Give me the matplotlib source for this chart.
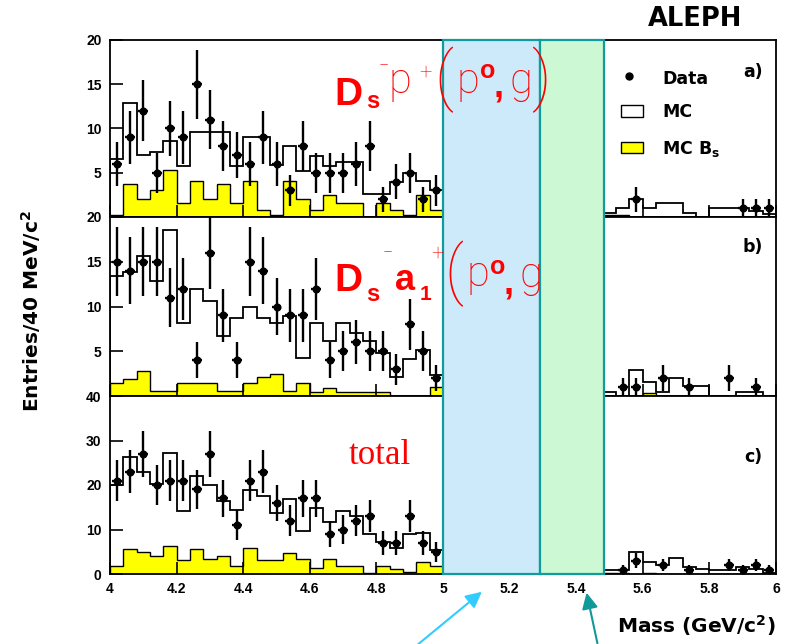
import numpy as np
import matplotlib
matplotlib.use("Agg")
import matplotlib.pyplot as plt
from matplotlib.patches import Rectangle, FancyArrowPatch
from matplotlib.lines import Line2D
from matplotlib.transforms import blended_transform_factory

plt.rcParams["font.family"] = ["DejaVu Sans"]
plt.rcParams["mathtext.fontset"] = "custom"
plt.rcParams["mathtext.rm"] = "DejaVu Sans:bold"
plt.rcParams["mathtext.it"] = "DejaVu Sans:bold"
plt.rcParams["mathtext.bf"] = "DejaVu Sans:bold"
plt.rcParams["mathtext.default"] = "rm"

# 40 MeV/c^2 bins; the 5.00-5.48 GeV/c^2 signal window is covered by the bands
edges_lo = np.round(np.linspace(4.00, 5.00, 26), 2)
edges_hi = np.round(np.linspace(5.48, 6.00, 14), 2)

# a) Ds- rho+ (rho0, gamma)
data_a_lo = [6, 9, 12, 5, 10, 9, 15, 11, 8, 7, 6, 9, 6, 3, 8, 5, 5, 5, 6, 8, 2, 4, 5, 2, 3]
data_a_hi = [0, 0, 2, 0, 0, 0, 0, 0, 0, 0, 1, 1, 1]
mc_a_lo = [6.6, 12.9, 7.0, 7.4, 8.6, 5.8, 9.6, 9.6, 9.6, 5.8, 9.0, 9.0, 5.9,
           8.0, 5.2, 6.9, 5.8, 6.2, 6.2, 2.6, 2.6, 3.9, 5.0, 4.1, 3.1]
mc_a_hi = [0.5, 1.0, 2.0, 1.0, 1.6, 1.6, 0.5, 0.0, 1.0, 1.0, 1.0, 0.7, 0.3]
bs_a_lo = [0.2, 3.7, 2.0, 3.1, 5.3, 1.6, 4.1, 2.0, 3.7, 1.6, 4.1, 0.8, 0.2,
           4.1, 2.0, 0.8, 2.5, 1.6, 1.6, 0.0, 1.6, 0.8, 0.2, 2.5, 0.8]
bs_a_hi = [0.2, 0.2, 0, 0, 0, 0, 0, 0, 0, 0, 0, 0, 0]

# b) Ds- a1+ (rho0, gamma)
data_b_lo = [15, 14, 15, 15, 11, 12, 4, 16, 9, 4, 15, 14, 10, 9, 9, 12, 4, 5, 6, 5, 5, 3, 8, 5, 2]
data_b_hi = [0, 1, 1, 0, 2, 0, 1, 0, 0, 2, 0, 1, 0]
mc_b_lo = [13.4, 13.9, 15.6, 12.9, 18.6, 8.2, 11.9, 10.6, 6.7, 8.7, 9.9, 8.7, 8.2,
           8.9, 4.3, 8.2, 6.1, 8.2, 7.0, 6.1, 4.8, 2.1, 4.1, 5.1, 2.4]
mc_b_hi = [0.5, 0.0, 2.9, 1.6, 0.5, 2.0, 1.1, 1.1, 0.0, 0.0, 0.5, 0.5, 0.0]
bs_b_lo = [1.5, 1.9, 2.8, 0.6, 0.6, 1.5, 1.5, 1.5, 0.6, 0.6, 1.5, 2.1, 2.5,
           0.6, 1.5, 0.5, 0.85, 0.4, 0.4, 0.4, 0.4, 0.0, 0.0, 0.0, 1.0]
bs_b_hi = [0, 0, 0, 0.3, 0, 0, 0, 0, 0, 0, 0, 0, 0]

# c) total
data_c_lo = [21, 23, 27, 20, 21, 21, 19, 27, 17, 11, 21, 23, 16, 12, 17, 17, 9, 10, 12, 13, 7, 7, 13, 7, 5]
data_c_hi = [0, 1, 3, 0, 2, 0, 1, 0, 0, 2, 1, 2, 1]
mc_c_lo = [20.0, 26.2, 22.9, 20.2, 27.2, 14.1, 22.0, 20.1, 16.3, 14.4, 18.9, 17.5, 13.8,
           16.8, 9.7, 14.8, 11.6, 14.1, 13.0, 8.9, 7.3, 5.9, 8.9, 9.2, 5.4]
mc_c_hi = [0.9, 1.0, 4.9, 2.6, 2.1, 3.6, 1.6, 1.1, 1.0, 1.0, 1.5, 1.2, 0.3]
bs_c_lo = [1.7, 5.6, 5.0, 4.1, 6.2, 3.2, 5.6, 3.4, 4.1, 1.7, 5.8, 3.2, 3.2,
           4.7, 3.4, 1.3, 3.4, 1.7, 1.7, 0.2, 1.7, 1.1, 0.5, 2.6, 1.7]
bs_c_hi = [0.3, 0.3, 0, 0.3, 0, 0, 0, 0, 0, 0, 0, 0, 0]

x_ticks = [4.0, 4.2, 4.4, 4.6, 4.8, 5.0, 5.2, 5.4, 5.6, 5.8, 6.0]
x_ticklabels = ["4", "4.2", "4.4", "4.6", "4.8", "5", "5.2", "5.4", "5.6", "5.8", "6"]
y_ticks = [[5, 10, 15, 20], [5, 10, 15, 20], [0, 10, 20, 30, 40]]
y_max = [20, 20, 40]
panel_tags = ["a)", "b)", "c)"]

W, H = 785, 644
fig = plt.figure(figsize=(W / 100, H / 100), dpi=100)


def fx(px):
    return px / W


def fy(py):
    return 1 - py / H


left_px, right_px = 110, 776
rows = [(40, 217), (217, 396), (396, 574)]
tag_rows = [72, 247, 457]

panels = [
    (data_a_lo, data_a_hi, mc_a_lo, mc_a_hi, bs_a_lo, bs_a_hi),
    (data_b_lo, data_b_hi, mc_b_lo, mc_b_hi, bs_b_lo, bs_b_hi),
    (data_c_lo, data_c_hi, mc_c_lo, mc_c_hi, bs_c_lo, bs_c_hi),
]

tick_font = dict(family=["Liberation Sans", "DejaVu Sans"], fontweight="bold", size=10)

axes = []
for i, ((top, bot), series) in enumerate(zip(rows, panels)):
    ax = fig.add_axes([fx(left_px), fy(bot), fx(right_px - left_px), (bot - top) / H])
    d_lo, d_hi, m_lo, m_hi, b_lo, b_hi = series
    for edges, d, m, b in ((edges_lo, d_lo, m_lo, b_lo), (edges_hi, d_hi, m_hi, b_hi)):
        ax.stairs(b, edges, fill=True, color="#ffff00", lw=0, zorder=1)
        ax.stairs(b, edges, color="black", lw=1.0, zorder=2)
        ax.stairs(m, edges, color="black", lw=1.3, zorder=3)
        centers = 0.5 * (edges[:-1] + edges[1:])
        d = np.asarray(d, dtype=float)
        keep = d > 0
        ax.errorbar(centers[keep], d[keep], yerr=np.sqrt(d[keep]), xerr=0.015,
                    fmt="o", ms=4.8, color="black", ecolor="black",
                    elinewidth=1.7, capsize=0, zorder=4)
    ax.set_xlim(4, 6)
    ax.set_ylim(0, y_max[i])
    ax.set_xticks(x_ticks)
    ax.set_yticks(y_ticks[i])
    ax.tick_params(direction="in", length=9, width=1.2, top=False, right=False, pad=6)
    ax.set_yticklabels([str(v) for v in y_ticks[i]], fontdict=tick_font)
    if i < 2:
        ax.set_xticklabels([])
    else:
        ax.set_xticklabels(x_ticklabels, fontdict=tick_font)
    for sp in ax.spines.values():
        sp.set_linewidth(1.3)
    axes.append(ax)
    fig.text(fx(753), fy(tag_rows[i]), panel_tags[i], ha="center", va="center",
             fontsize=12.5, fontweight="bold")

ax_a, ax_b, ax_c = axes

# legend of panel a
fig.add_artist(Line2D([fx(629)], [fy(76)], marker="o", ms=5, color="black", ls="none"))
fig.add_artist(Rectangle((fx(621), fy(117)), fx(22), 12 / H, facecolor="white",
                         edgecolor="black", lw=1.0))
fig.add_artist(Rectangle((fx(621), fy(153)), fx(22), 11 / H, facecolor="#ffff00",
                         edgecolor="black", lw=1.0))
for txt, yy in (("Data", 79), ("MC", 112), ("MC B$_s$", 149)):
    fig.text(fx(662), fy(yy), txt, ha="left", va="center", fontsize=12.5, fontweight="bold")

# signal and sideband windows spanning all three panels
trans = blended_transform_factory(ax_c.transData, fig.transFigure)
for x0, x1, face in ((5.0, 5.292, "#cceafa"), (5.292, 5.484, "#ccf9d3")):
    fig.add_artist(Rectangle((x0, fy(574)), x1 - x0, (574 - 40) / H, transform=trans,
                             facecolor=face, edgecolor="#109c9c", lw=1.6, zorder=5))

# decay channel labels
red = "#ff0000"
thin = dict(family=["Roboto", "DejaVu Sans"], fontweight=100, color=red, zorder=10)
bold = dict(family=["Liberation Sans", "DejaVu Sans"], fontweight="bold", color=red, zorder=10)


def put(x, y, s, style, size, va="baseline"):
    fig.text(fx(x), fy(y), s, ha="left", va=va, fontsize=size, **style)


# Ds- rho+ (rho0, gamma)
put(334, 105, "D", bold, 28)
put(366, 108, "s", bold, 17)
put(379, 66, "\u2212", thin, 13, va="center")
put(389, 93, "p", thin, 30)
put(419, 73, "+", thin, 16, va="center")
put(434, 80, "(", thin, 46, va="center")
put(456, 93, "p", thin, 30)
put(480, 78, "o", bold, 18)
put(494, 96, ",", bold, 26)
put(509, 93, "g", thin, 30)
put(531, 80, ")", thin, 46, va="center")

# Ds- a1+ (rho0, gamma)
put(334, 291, "D", bold, 28)
put(366, 301, "s", bold, 17)
put(383, 253, "\u2212", thin, 13, va="center")
put(395, 290, "a", bold, 26)
put(420, 300, "1", bold, 15)
put(431, 254, "+", thin, 16, va="center")
put(444, 274, "(", thin, 46, va="center")
put(466, 286, "p", thin, 30)
put(490, 274, "o", bold, 18)
put(504, 293, ",", bold, 26)
put(519, 287, "g", thin, 30)

fig.text(fx(380), fy(455), "total", ha="center", va="center", fontsize=25,
         family=["Liberation Serif", "DejaVu Serif"], color=red, zorder=10)

# titles and axis labels
fig.text(fx(695), fy(19), "ALEPH", ha="center", va="center", fontsize=18.5, fontweight="bold")
fig.text(fx(776), fy(626), "Mass (GeV/c$^2$)", ha="right", va="center", fontsize=14.5,
         fontweight="bold")
fig.text(fx(31), fy(311), "Entries/40 MeV/c$^2$", ha="center", va="center", rotation=90,
         fontsize=14.5, fontweight="bold")

# arrows pointing at the two windows
for (x0, y0), (x1, y1), col in (((416, 646), (484, 590), "#33ccff"),
                                ((598, 646), (586, 590), "#119999")):
    fig.add_artist(FancyArrowPatch((fx(x0), fy(y0)), (fx(x1), fy(y1)),
                                   transform=fig.transFigure, arrowstyle="-|>",
                                   mutation_scale=24, color=col, lw=1.5, zorder=10))

fig.savefig("out.png", dpi=100)
